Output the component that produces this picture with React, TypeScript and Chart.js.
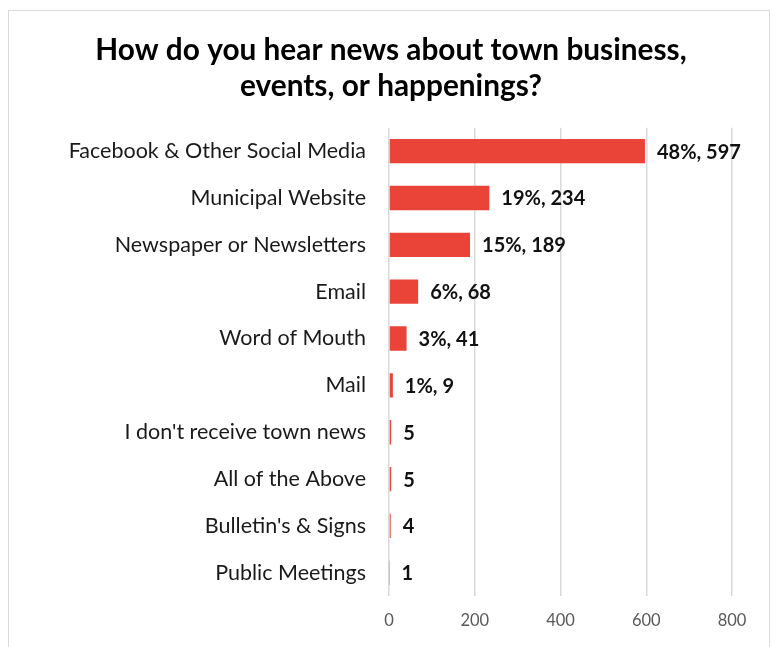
import React, { useEffect, useRef } from "react";
import { Chart, registerables } from "chart.js";

Chart.register(...registerables);

const categories = [
  "Facebook & Other Social Media",
  "Municipal Website",
  "Newspaper or Newsletters",
  "Email",
  "Word of Mouth",
  "Mail",
  "I don't receive town news",
  "All of the Above",
  "Bulletin's & Signs",
  "Public Meetings",
];
const counts = [597, 234, 189, 68, 41, 9, 5, 5, 4, 1];
const percents: (number | null)[] = [48, 19, 15, 6, 3, 1, null, null, null, null];
const xTicks = [0, 200, 400, 600, 800];
const titleLines = ["How do you hear news about town business,", "events, or happenings?"];

const FONT = "Lato, 'Open Sans', sans-serif";

const valueLabels = {
  id: "valueLabels",
  afterDatasetsDraw(chart: any) {
    const ctx = chart.ctx;
    const meta = chart.getDatasetMeta(0);
    ctx.save();
    ctx.font = `bold 20px ${FONT}`;
    ctx.fillStyle = "#111111";
    ctx.textAlign = "left";
    ctx.textBaseline = "middle";
    meta.data.forEach((bar: any, i: number) => {
      const p = percents[i];
      const text = p === null ? `${counts[i]}` : `${p}%, ${counts[i]}`;
      ctx.fillText(text, bar.x + 12, bar.y + 1);
    });
    ctx.restore();
  },
};

export default function App() {
  const ref = useRef<HTMLCanvasElement>(null);
  useEffect(() => {
    if (!ref.current) return;
    const chart = new Chart(ref.current, {
      type: "bar",
      data: {
        labels: categories,
        datasets: [
          {
            data: counts,
            backgroundColor: "#E94437",
            borderWidth: 0,
            barPercentage: 0.52,
            categoryPercentage: 1,
          },
        ],
      },
      options: {
        indexAxis: "y",
        animation: false,
        responsive: false,
        maintainAspectRatio: false,
        layout: { padding: { left: 41, right: 37, top: 0, bottom: 1 } },
        plugins: {
          legend: { display: false },
          tooltip: { enabled: false },
          title: {
            display: true,
            text: titleLines,
            color: "#000000",
            font: { family: FONT, size: 29.8, weight: "bold", lineHeight: 1.22 },
            padding: { top: 21, bottom: 23 },
          },
        },
        scales: {
          x: {
            min: 0,
            max: 800,
            afterBuildTicks: (scale: any) => {
              scale.ticks = xTicks.map((v) => ({ value: v }));
            },
            grid: { color: "#d9d9d9", lineWidth: 1.5, drawTicks: false },
            border: { display: false },
            ticks: {
              color: "#595959",
              font: { family: FONT, size: 16.5 },
              padding: 15,
            },
          },
          y: {
            grid: { display: false, drawTicks: false },
            border: { display: false },
            afterFit: (scale: any) => {
              scale.width = 339;
            },
            ticks: {
              color: "#1a1a1a",
              font: { family: FONT, size: 21.5 },
              padding: 23,
            },
          },
        },
      },
      plugins: [valueLabels],
    });
    return () => chart.destroy();
  }, []);
  return (
    <div
      style={{
        marginTop: 2,
        width: 760,
        height: 636,
        border: "1px solid #d9d9d9",
        borderBottom: "none",
        boxSizing: "content-box",
      }}
    >
      <canvas ref={ref} width={760} height={636} style={{ display: "block" }} />
    </div>
  );
}
